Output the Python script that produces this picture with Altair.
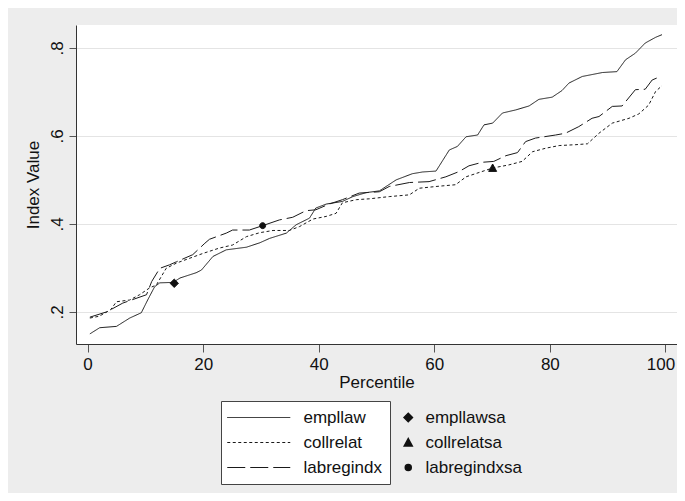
import altair as alt
import pandas as pd

# ---- data ----
emp_x = [0.4, 2.1, 5, 7.3, 9.3, 10.4, 11.6, 12.5, 14.8, 16, 18.8, 19.7, 21.7, 24, 27.5, 29.8, 31.5, 34.4, 36.1, 38.4,
         39.5, 41.3, 44.1, 45.9, 48.2, 50.5, 53.4, 56.2, 58, 60.3, 62.6, 64, 65.5, 67.5, 68.6, 70.1, 71.8, 74.1, 76.4,
         78.1, 80.4, 82.1, 83.3, 85.6, 89.1, 91.6, 93.1, 94.8, 96.5, 98.3, 99.4]
emp_y = [0.150, 0.164, 0.167, 0.186, 0.198, 0.227, 0.257, 0.266, 0.267, 0.277, 0.289, 0.295, 0.326, 0.341, 0.347,
         0.357, 0.367, 0.379, 0.398, 0.413, 0.436, 0.445, 0.451, 0.462, 0.471, 0.475, 0.500, 0.514, 0.518, 0.520,
         0.568, 0.576, 0.598, 0.602, 0.625, 0.629, 0.652, 0.659, 0.668, 0.683, 0.688, 0.703, 0.720, 0.735, 0.744,
         0.746, 0.773, 0.788, 0.811, 0.824, 0.830]

col_x = [0.4, 2, 4, 5, 7.3, 9, 10.8, 11.9, 13.6, 15.4, 17.7, 20, 22.8, 25.1, 27.5, 29.8, 32.1, 34.9, 36.7, 39, 41.3,
         43, 44.1, 46.5, 48.8, 52.2, 55.7, 57.4, 60.3, 63.7, 65.5, 67.8, 70.1, 72.9, 75.2, 77, 79.3, 81.6, 84.5, 86.5,
         88.5, 90.8, 93.7, 95.4, 97.1, 98.3, 99.4]
col_y = [0.186, 0.190, 0.205, 0.223, 0.227, 0.239, 0.255, 0.261, 0.299, 0.311, 0.322, 0.333, 0.345, 0.352, 0.371,
         0.380, 0.385, 0.385, 0.394, 0.411, 0.417, 0.424, 0.448, 0.455, 0.457, 0.462, 0.466, 0.481, 0.485, 0.489,
         0.507, 0.517, 0.527, 0.534, 0.542, 0.564, 0.572, 0.578, 0.580, 0.582, 0.606, 0.629, 0.640, 0.650, 0.670,
         0.701, 0.714]

lab_x = [0.4, 3.3, 6.1, 10.2, 11.1, 12.5, 14.2, 15.4, 18.2, 20.3, 21.1, 24, 25.1, 28, 30.3, 33.2, 35.5, 37.8, 39.5,
         41.8, 44.1, 47, 50.5, 52.2, 55.7, 59.1, 62, 64.3, 66, 68.3, 70.3, 72.4, 74.4, 75.8, 77.5, 81, 82.7, 85, 87.3,
         88.5, 90.8, 92.5, 94.8, 96.5, 97.7, 98.6]
lab_y = [0.188, 0.200, 0.220, 0.239, 0.269, 0.299, 0.307, 0.314, 0.330, 0.356, 0.365, 0.379, 0.386, 0.386, 0.396,
         0.409, 0.415, 0.430, 0.432, 0.445, 0.455, 0.470, 0.473, 0.485, 0.494, 0.496, 0.507, 0.519, 0.532, 0.540,
         0.542, 0.555, 0.562, 0.587, 0.595, 0.602, 0.606, 0.621, 0.640, 0.644, 0.667, 0.668, 0.705, 0.706, 0.727,
         0.732]

marker_names = ["empllawsa", "collrelatsa", "labregindxsa"]
marker_x = [15.0, 70.1, 30.3]
marker_y = [0.265, 0.527, 0.396]

line_names = ["empllaw", "collrelat", "labregindx"]
x_ticks = [0, 20, 40, 60, 80, 100]
y_ticks = [0.2, 0.4, 0.6, 0.8]

# ---- tables ----
rows = []
for name, xs, ys in [("empllaw", emp_x, emp_y), ("collrelat", col_x, col_y), ("labregindx", lab_x, lab_y)]:
    for xv, yv in zip(xs, ys):
        rows.append({"series": name, "pct": xv, "val": yv})
lines_df = pd.DataFrame(rows)
pts_df = pd.DataFrame({"series": marker_names, "pct": marker_x, "val": marker_y})

# ---- glyph shapes (symbol units; 1 unit = 4 px at size 64) ----
DIAMOND = "M0,-1.05L1.05,0L0,1.05L-1.05,0Z"
TRIANGLE = "M0,-1L1,0.85L-1,0.85Z"
CIRCLE = "M-0.75,0A0.75,0.75 0 1,0 0.75,0A0.75,0.75 0 1,0 -0.75,0Z"
LEGEND_LINE = "M-2.56,0L13.19,0"
dash_range = [[1, 0], [3, 2.5], [18, 5]]

FONT = "Liberation Sans"
PAD = "\u00a0" * 30

x_enc = alt.X("pct:Q", scale=alt.Scale(domain=[-2, 102], nice=False, zero=False),
              axis=alt.Axis(values=x_ticks, title="Percentile", grid=False, tickSize=8,
                            labelPadding=4, titlePadding=2, labelFlush=False,
                            labelOffset=alt.condition("datum.value == 100", alt.value(-5), alt.value(0))))
y_enc = alt.Y("val:Q", scale=alt.Scale(domain=[0.127, 0.852], nice=False, zero=False),
              axis=alt.Axis(values=y_ticks, title="Index Value", grid=True, tickSize=7,
                            labelAngle=270, labelAlign="center", labelBaseline="bottom",
                            labelPadding=3, titlePadding=6,
                            labelExpr="replace(format(datum.value, '.1f'), '0.', '.')"))

lines = alt.Chart(lines_df).mark_line(strokeWidth=1, color="#1a1a1a").encode(
    x=x_enc, y=y_enc,
    strokeDash=alt.StrokeDash(
        "series:N", scale=alt.Scale(domain=line_names, range=dash_range),
        legend=alt.Legend(
            title=None, orient="none", legendX=145, legendY=376, direction="vertical",
            fillColor="white", strokeColor="#444", padding=8, zindex=0,
            labelFontSize=17, labelFont=FONT, labelColor="#111", labelOffset=57.5,
            labelExpr=f"datum.label + '{PAD}'", labelLimit=400,
            symbolType=LEGEND_LINE, symbolSize=64, symbolStrokeWidth=1, symbolStrokeColor="#1a1a1a",
            rowPadding=7,
        )),
    detail="series:N",
)

points = alt.Chart(pts_df).mark_point(
    filled=False, fill="#111", stroke="#111", strokeWidth=1, size=64, opacity=1
).encode(
    x=x_enc, y=y_enc,
    shape=alt.Shape(
        "series:N", scale=alt.Scale(domain=marker_names, range=[DIAMOND, TRIANGLE, CIRCLE]),
        legend=alt.Legend(
            title=None, orient="none", legendX=315.75, legendY=376, direction="vertical",
            padding=8, zindex=1,
            labelFontSize=17, labelFont=FONT, labelColor="#111", labelOffset=8.75,
            symbolSize=64, rowPadding=7,
        )),
)

chart = alt.layer(lines, points).properties(
    width=601, height=319,
    autosize=alt.AutoSizeParams(type="none"),
    padding={"left": 68, "top": 17, "right": 0, "bottom": 149},
    background="#ededed",
).configure_view(
    fill="white", stroke=None
).configure_axis(
    labelFont=FONT, titleFont=FONT, labelFontSize=17, titleFontSize=17,
    labelColor="#111", titleColor="#111", titleFontWeight="normal",
    domainColor="#333", domainWidth=1, tickColor="#555", tickWidth=1,
    gridColor="#e4e4e4", gridWidth=1,
)

chart.save("out.html", embed_options={"renderer": "svg", "actions": False})
